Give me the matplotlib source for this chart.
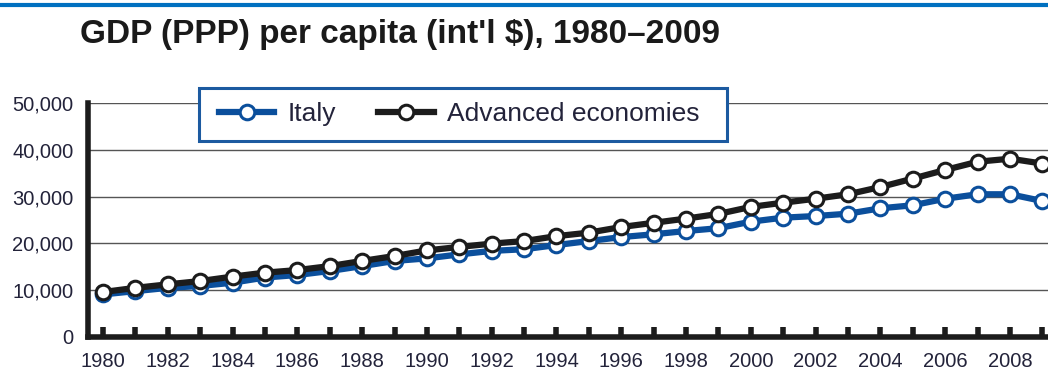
import matplotlib
matplotlib.use("Agg")
import matplotlib.pyplot as plt
from matplotlib.lines import Line2D
from matplotlib.patches import Rectangle

# GDP (PPP) per capita, international dollars
years = list(range(1980, 2010))

italy = [
    9100, 9800, 10500, 10900, 11600, 12700, 13250, 14100, 15150, 16250,
    16800, 17650, 18400, 18750, 19650, 20500, 21350, 21950, 22650, 23250,
    24650, 25500, 25850, 26350, 27500, 28150, 29550, 30500, 30500, 29050,
]

advanced = [
    9600, 10500, 11250, 11950, 12900, 13750, 14300, 15150, 16250, 17300,
    18500, 19250, 19950, 20500, 21550, 22300, 23500, 24400, 25300, 26300,
    27800, 28700, 29550, 30500, 32050, 33850, 35700, 37450, 38100, 37050,
]

y_ticks = [0, 10000, 20000, 30000, 40000, 50000]
x_ticks = list(range(1980, 2010, 2))

ITALY_BLUE = "#0b4f9c"
DARK = "#1c1c1c"
LABEL = "#23233a"
FONT = ["Liberation Sans", "DejaVu Sans"]
W, H = 1048, 372

fig = plt.figure(figsize=(W / 100, H / 100), dpi=100)

# header rule and title
fig.add_artist(Line2D([0, 1], [0.986, 0.986], transform=fig.transFigure,
                      color="#0070c0", linewidth=3))
fig.text(0.076, 1 - 43 / H, "GDP (PPP) per capita (int'l $), 1980\u20132009",
         fontsize=24, fontweight="bold", family=FONT, color="#1a1a1a",
         ha="left", va="baseline")

ax = fig.add_axes([88 / W, 35 / H, 960 / W, 234 / H])

ax.plot(years, italy, color=ITALY_BLUE, linewidth=4.5, marker="o",
        markersize=10.5, markerfacecolor="white", markeredgecolor=ITALY_BLUE,
        markeredgewidth=2.2, label="Italy", zorder=3)
ax.plot(years, advanced, color=DARK, linewidth=4.5, marker="o",
        markersize=10.5, markerfacecolor="white", markeredgecolor=DARK,
        markeredgewidth=2.2, label="Advanced economies", zorder=4)

ax.set_xlim(1979.54, 2009.17)
ax.set_ylim(0, 50000)

ax.set_yticks(y_ticks)
ax.set_yticklabels([f"{v:,}" for v in y_ticks])
ax.set_xticks(years, minor=True)
ax.set_xticks(x_ticks)
ax.set_xticklabels([str(y) for y in x_ticks])

ax.grid(axis="y", color="#555555", linewidth=1.0, zorder=0)
ax.set_axisbelow(True)

for side in ["top", "right"]:
    ax.spines[side].set_visible(False)
ax.spines["left"].set_linewidth(4)
ax.spines["bottom"].set_linewidth(4)
ax.spines["left"].set_color(DARK)
ax.spines["bottom"].set_color(DARK)

ax.tick_params(axis="y", length=0, pad=10.5, labelsize=14.5, labelcolor=LABEL)
ax.tick_params(axis="x", which="both", direction="in", length=7, width=4,
               color=DARK, pad=11, labelsize=14.5, labelcolor=LABEL)
ax.tick_params(axis="x", which="minor", labelbottom=False)
for lab in ax.get_xticklabels() + ax.get_yticklabels():
    lab.set_family(FONT)

# legend: framed box drawn separately so it can be wider than its entries
box = Rectangle((199 / W, 1 - 141 / H), 528 / W, 53 / H,
                transform=fig.transFigure, facecolor="white",
                edgecolor="#1c5aa0", linewidth=2.2, clip_on=False, zorder=5)
ax.add_patch(box)
leg = ax.legend(loc="center left", ncol=2,
                bbox_to_anchor=(219 / W, 1 - 114 / H),
                bbox_transform=fig.transFigure, borderaxespad=0,
                frameon=False, borderpad=0,
                handlelength=2.1, handletextpad=0.5, columnspacing=1.6,
                prop={"family": FONT, "size": 19})
leg.set_zorder(6)
for t in leg.get_texts():
    t.set_color(LABEL)

fig.savefig("out.png", dpi=100)
